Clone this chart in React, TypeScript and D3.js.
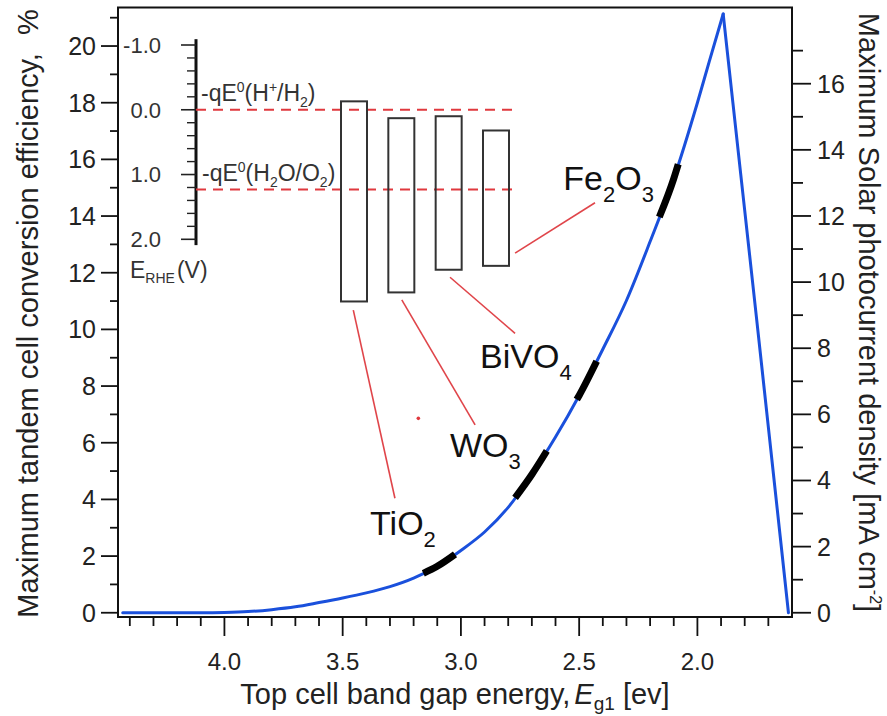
import React from "react";
import * as d3 from "d3";

// ---- main curve: top-cell band gap (eV) vs max tandem efficiency (%) ----
const EG = [4.43, 4.3, 4.2, 4.1, 4.0, 3.9, 3.8, 3.7, 3.6, 3.5, 3.4, 3.3, 3.2, 3.1, 3.0, 2.9, 2.8, 2.7, 2.6, 2.5, 2.4, 2.3, 2.2, 2.1, 2.0, 1.95, 1.891, 1.85, 1.8, 1.75, 1.7, 1.65, 1.615];
const EFF = [0, 0, 0, 0, 0.01, 0.04, 0.11, 0.21, 0.36, 0.52, 0.7, 0.92, 1.22, 1.64, 2.2, 2.85, 3.72, 4.88, 6.2, 7.67, 9.3, 11.02, 13.1, 15.32, 18.0, 19.45, 21.13, 18.0, 14.2, 10.4, 6.55, 2.7, 0];

// ---- materials ----
const MATERIALS = ["TiO2", "WO3", "BiVO4", "Fe2O3"];
const SEG_START = [3.159, 2.771, 2.51, 2.161];
const SEG_END = [3.025, 2.637, 2.426, 2.081];
const BAND_TOP = [-0.13, 0.13, 0.1, 0.32];
const BAND_BOTTOM = [2.96, 2.82, 2.47, 2.41];
const LABEL_X = [3.384, 3.046, 2.919, 2.567];
const LABEL_Y = [2.74, 5.51, 8.63, 14.92];
const LABEL_PARTS: [string, boolean][][] = [
  [["TiO", false], ["2", true]],
  [["WO", false], ["3", true]],
  [["BiVO", false], ["4", true]],
  [["Fe", false], ["2", true], ["O", false], ["3", true]],
];
const LEAD_FROM_X = [3.455, 3.25, 3.046, 2.771];
const LEAD_FROM_Y = [10.68, 11.04, 11.84, 12.69];
const LEAD_TO_X = [3.279, 2.94, 2.771, 2.433];
const LEAD_TO_Y = [4.04, 6.63, 9.86, 14.47];
const DOT = [3.18, 6.86];

// ---- ticks ----
const X_MAJOR = [4.0, 3.5, 3.0, 2.5, 2.0];
const X_MAJOR_LABELS = ["4.0", "3.5", "3.0", "2.5", "2.0"];
const X_MINOR = [4.4, 4.3, 4.2, 4.1, 3.9, 3.8, 3.7, 3.6, 3.4, 3.3, 3.2, 3.1, 2.9, 2.8, 2.7, 2.6, 2.4, 2.3, 2.2, 2.1, 1.9, 1.8, 1.7];
const YL_MAJOR = [0, 2, 4, 6, 8, 10, 12, 14, 16, 18, 20];
const YL_MINOR = [1, 3, 5, 7, 9, 11, 13, 15, 17, 19, 21];
const YR_MAJOR = [0, 2, 4, 6, 8, 10, 12, 14, 16];
const YR_MINOR = [1, 3, 5, 7, 9, 11, 13, 15, 17];
const E_MAJOR = [-1, 0, 1, 2];
const E_MAJOR_LABELS = ["-1.0", "0.0", "1.0", "2.0"];
const E_MINOR = [-0.8, -0.6, -0.4, -0.2, 0.2, 0.4, 0.6, 0.8, 1.2, 1.4, 1.6, 1.8];
const REDOX = [0, 1.23];

const EFF_PER_J = 1.1669;

const L = 118, R = 792, T = 7.5, B = 617;
const TXT = "#222";
const FONT = "'Liberation Sans', Arial, Helvetica, sans-serif";

function interp(e: number) {
  for (let i = 0; i < EG.length - 1; i++) {
    if (EG[i] >= e && e >= EG[i + 1]) {
      const t = (EG[i] - e) / (EG[i] - EG[i + 1]);
      return EFF[i] + t * (EFF[i + 1] - EFF[i]);
    }
  }
  return 0;
}

export default function App() {
  const x = d3.scaleLinear().domain([4.45, 1.6]).range([L, R]);
  const yL = d3.scaleLinear().domain([-0.15, 21.36]).range([B, T]);
  const yR = d3.scaleLinear().domain([-0.15 / EFF_PER_J, 21.36 / EFF_PER_J]).range([B, T]);
  const yE = d3.scaleLinear().domain([-1, 2]).range([45, 239.3]);
  const bx = d3.scalePoint<string>().domain(MATERIALS).range([354, 496]);
  const AX = 196;

  const pts = EG.map((e, i) => [e, EFF[i]] as [number, number]);
  const peak = EFF.indexOf(d3.max(EFF) as number);
  const line = d3
    .line<[number, number]>()
    .x((d) => x(d[0]))
    .y((d) => yL(d[1]))
    .curve(d3.curveMonotoneX);
  const rise = line(pts.slice(0, peak + 1)) || "";
  const fall = line(pts.slice(peak)) || "";

  const segs = MATERIALS.map((m, k) => {
    const a = SEG_START[k], b = SEG_END[k];
    const inner = pts.filter((p) => p[0] < a && p[0] > b);
    const sp: [number, number][] = [[a, interp(a)], ...inner, [b, interp(b)]];
    return line(sp) || "";
  });

  return (
    <svg
      width={887}
      height={716}
      style={{ display: "block", position: "absolute", left: 0, top: 0, fontFamily: FONT }}
    >
      <rect x={0} y={0} width={887} height={716} fill="#fff" />
      {/* frame */}
      <rect x={L} y={T} width={R - L} height={B - T} fill="none" stroke="#111" strokeWidth={2} />

      {/* left axis */}
      {YL_MAJOR.map((v) => (
        <g key={"lm" + v}>
          <line x1={L} x2={L - 17} y1={yL(v)} y2={yL(v)} stroke="#111" strokeWidth={1.8} />
          <text x={L - 22} y={yL(v)} dy="0.36em" textAnchor="end" fontSize={25} fill={TXT}>
            {v}
          </text>
        </g>
      ))}
      {YL_MINOR.map((v) => (
        <line key={"ln" + v} x1={L} x2={L - 8} y1={yL(v)} y2={yL(v)} stroke="#111" strokeWidth={1.8} />
      ))}

      {/* right axis */}
      {YR_MAJOR.map((v) => (
        <g key={"rm" + v}>
          <line x1={R} x2={R + 19} y1={yR(v)} y2={yR(v)} stroke="#111" strokeWidth={1.8} />
          <text x={R + 25} y={yR(v)} dy="0.36em" textAnchor="start" fontSize={25} fill={TXT}>
            {v}
          </text>
        </g>
      ))}
      {YR_MINOR.map((v) => (
        <line key={"rn" + v} x1={R} x2={R + 11} y1={yR(v)} y2={yR(v)} stroke="#111" strokeWidth={1.8} />
      ))}

      {/* bottom axis */}
      {X_MAJOR.map((v, i) => (
        <g key={"xm" + v}>
          <line x1={x(v)} x2={x(v)} y1={B} y2={B + 19} stroke="#111" strokeWidth={1.8} />
          <text x={x(v)} y={670} textAnchor="middle" fontSize={24} fill={TXT}>
            {X_MAJOR_LABELS[i]}
          </text>
        </g>
      ))}
      {X_MINOR.map((v) => (
        <line key={"xn" + v} x1={x(v)} x2={x(v)} y1={B} y2={B + 9} stroke="#111" strokeWidth={1.8} />
      ))}

      {/* axis titles */}
      <text transform={`translate(38,${(15 + 612) / 2}) rotate(-90)`} textAnchor="middle" fontSize={29} fill={TXT}>
        Maximum tandem cell conversion efficiency,<tspan dx={18}>%</tspan>
      </text>
      <text transform={`translate(859,${(13 + 612) / 2}) rotate(90)`} textAnchor="middle" fontSize={29} fill={TXT}>
        Maximum Solar photocurrent density [mA cm
        <tspan fontSize={16} dy={-11}>-2</tspan>
        <tspan dy={11}>]</tspan>
      </text>
      <text x={455} y={704} textAnchor="middle" fontSize={29} fill={TXT}>
        Top cell band gap energy,
        <tspan dx={4} fontStyle="italic">E</tspan>
        <tspan fontSize={19} dy={6}>g1</tspan>
        <tspan dy={-6}> [ev]</tspan>
      </text>

      {/* inset energy axis */}
      <line x1={AX} x2={AX} y1={yE(-1.09)} y2={yE(2.09)} stroke="#111" strokeWidth={3} />
      {E_MAJOR.map((v, i) => (
        <g key={"em" + v}>
          <line x1={AX} x2={AX - 15} y1={yE(v)} y2={yE(v)} stroke="#222" strokeWidth={1.6} />
          <text x={161} y={yE(v)} dy="0.36em" textAnchor="end" fontSize={22} fill="#333">
            {E_MAJOR_LABELS[i]}
          </text>
        </g>
      ))}
      {E_MINOR.map((v) => (
        <line key={"en" + v} x1={AX} x2={AX - 9} y1={yE(v)} y2={yE(v)} stroke="#222" strokeWidth={1.4} />
      ))}
      <text x={130} y={278} fontSize={23} fill="#333">
        E<tspan fontSize={14} dy={5}>RHE</tspan>
        <tspan dy={-5} dx={2}>(V)</tspan>
      </text>
      <text x={201} y={101} fontSize={23} fill="#333">
        -qE<tspan fontSize={14} dy={-9}>0</tspan>
        <tspan dy={9}>(H</tspan>
        <tspan fontSize={14} dy={-9}>+</tspan>
        <tspan dy={9}>/H</tspan>
        <tspan fontSize={14} dy={6}>2</tspan>
        <tspan dy={-6}>)</tspan>
      </text>
      <text x={202} y={181} fontSize={23} fill="#333">
        -qE<tspan fontSize={14} dy={-9}>0</tspan>
        <tspan dy={9}>(H</tspan>
        <tspan fontSize={14} dy={6}>2</tspan>
        <tspan dy={-6}>O/O</tspan>
        <tspan fontSize={14} dy={6}>2</tspan>
        <tspan dy={-6}>)</tspan>
      </text>
      {REDOX.map((v) => (
        <line key={"rd" + v} x1={AX} x2={517} y1={yE(v)} y2={yE(v)} stroke="#e0393e" strokeWidth={2} strokeDasharray="10 7" />
      ))}
      {MATERIALS.map((m, k) => (
        <rect
          key={"band" + m}
          x={(bx(m) as number) - 13}
          y={yE(BAND_TOP[k])}
          width={26}
          height={yE(BAND_BOTTOM[k]) - yE(BAND_TOP[k])}
          fill="none"
          stroke="#333"
          strokeWidth={2}
        />
      ))}

      {/* leader lines */}
      {MATERIALS.map((m, k) => (
        <line
          key={"ld" + m}
          x1={x(LEAD_FROM_X[k])}
          y1={yL(LEAD_FROM_Y[k])}
          x2={x(LEAD_TO_X[k])}
          y2={yL(LEAD_TO_Y[k])}
          stroke="#e0454a"
          strokeWidth={1.6}
        />
      ))}
      <circle cx={x(DOT[0])} cy={yL(DOT[1])} r={1.8} fill="#e0393e" />

      {/* curve */}
      <path d={rise} fill="none" stroke="#1a50dc" strokeWidth={3} strokeLinecap="round" />
      <path d={fall} fill="none" stroke="#1a50dc" strokeWidth={3} strokeLinecap="round" />
      {segs.map((d, k) => (
        <path key={"seg" + k} d={d} fill="none" stroke="#000" strokeWidth={7} />
      ))}

      {/* material labels */}
      {MATERIALS.map((m, k) => {
        let prevSub = false;
        return (
          <text key={"lb" + m} x={x(LABEL_X[k])} y={yL(LABEL_Y[k])} fontSize={34} fill="#111">
            {LABEL_PARTS[k].map(([s, sub], j) => {
              const dy = sub && !prevSub ? 12 : !sub && prevSub ? -12 : 0;
              prevSub = sub;
              return (
                <tspan key={j} dy={dy} fontSize={sub ? 22 : 34}>
                  {s}
                </tspan>
              );
            })}
          </text>
        );
      })}
    </svg>
  );
}
